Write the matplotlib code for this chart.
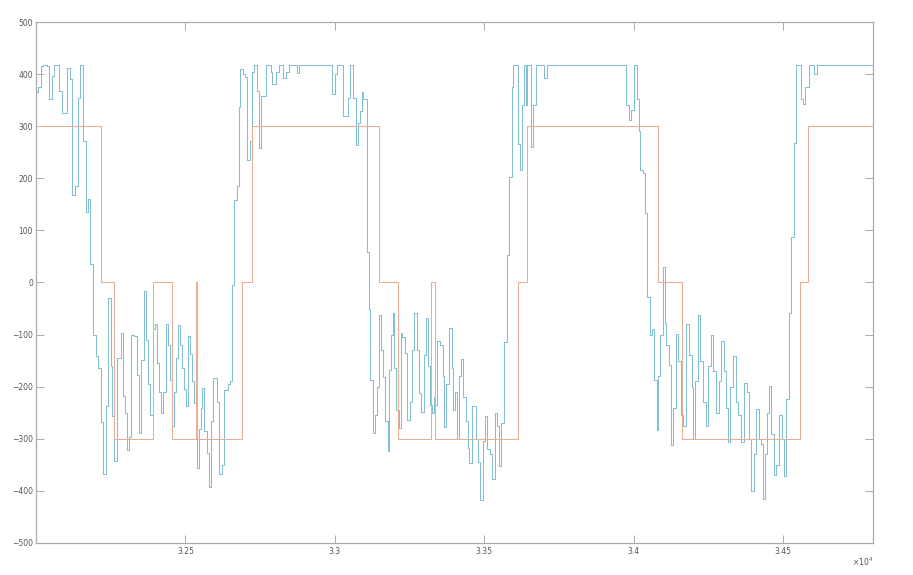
import matplotlib.pyplot as plt

sig_t = [32000, 32008, 32017, 32023, 32037, 32045, 32054, 32060, 32077, 32087,
         32104, 32114, 32122, 32130, 32139, 32147, 32157, 32166, 32174, 32181,
         32192, 32200, 32206, 32217, 32225, 32234, 32242, 32250, 32255, 32262,
         32270, 32284, 32290, 32297, 32303, 32310, 32319, 32328, 32337, 32344,
         32353, 32361, 32368, 32376, 32381, 32392, 32399, 32406, 32411, 32418,
         32426, 32434, 32441, 32448, 32454, 32463, 32468, 32476, 32482, 32489,
         32496, 32501, 32507, 32515, 32522, 32530, 32537, 32545, 32552, 32556,
         32563, 32571, 32579, 32587, 32593, 32606, 32613, 32621, 32629, 32643,
         32649, 32657, 32663, 32671, 32679, 32684, 32691, 32699, 32707, 32716,
         32723, 32730, 32738, 32746, 32752, 32768, 32785, 32791, 32803, 32812,
         32827, 32836, 32845, 32872, 32881, 32991, 33000, 33008, 33026, 33044,
         33050, 33059, 33072, 33078, 33084, 33090, 33095, 33106, 33115, 33119,
         33126, 33134, 33141, 33148, 33154, 33162, 33169, 33176, 33182, 33187,
         33193, 33198, 33206, 33213, 33221, 33226, 33234, 33242, 33251, 33259,
         33265, 33273, 33281, 33287, 33298, 33304, 33312, 33318, 33326, 33331,
         33334, 33342, 33351, 33360, 33366, 33373, 33381, 33390, 33396, 33401,
         33407, 33415, 33421, 33429, 33437, 33444, 33449, 33457, 33471, 33479,
         33487, 33494, 33502, 33509, 33518, 33527, 33535, 33543, 33549, 33557,
         33565, 33574, 33583, 33591, 33596, 33611, 33619, 33626, 33632, 33639,
         33642, 33655, 33663, 33672, 33700, 33708, 33975, 33983, 33992, 34001,
         34011, 34018, 34022, 34029, 34037, 34045, 34055, 34062, 34068, 34076,
         34082, 34089, 34098, 34103, 34109, 34117, 34123, 34131, 34140, 34148,
         34157, 34165, 34174, 34185, 34193, 34198, 34206, 34215, 34220, 34232,
         34241, 34248, 34257, 34265, 34276, 34285, 34293, 34301, 34307, 34315,
         34323, 34332, 34341, 34349, 34360, 34368, 34377, 34384, 34393, 34401,
         34410, 34418, 34424, 34432, 34440, 34447, 34452, 34460, 34468, 34477,
         34485, 34494, 34502, 34510, 34519, 34527, 34535, 34541, 34558, 34566,
         34574, 34586, 34603, 34613, 34800]
sig_v = [366, 376, 415, 418, 415, 352, 396, 418, 367, 326,
         411, 390, 168, 185, 355, 418, 272, 135, 160, 35,
         -100, -141, -165, -267, -368, -238, -29, -160, -257, -343,
         -144, -97, -218, -250, -321, -296, -100, -103, -177, -288,
         -149, -16, -110, -195, -254, -90, -80, -155, -210, -251,
         -210, -80, -120, -187, -276, -210, -145, -82, -120, -165,
         -205, -238, -103, -138, -190, -232, -357, -282, -240, -202,
         -286, -328, -393, -265, -183, -229, -367, -351, -207, -195,
         -190, -5, 158, 185, 336, 410, 400, 395, 236, 272,
         405, 418, 368, 258, 358, 418, 405, 381, 405, 418,
         392, 405, 418, 403, 418, 361, 400, 418, 320, 355,
         418, 355, 264, 307, 330, 365, 352, 59, -51, -188,
         -289, -254, -200, -62, -130, -181, -265, -323, -168, -100,
         -58, -165, -245, -280, -96, -104, -135, -264, -229, -130,
         -58, -130, -213, -248, -140, -69, -160, -235, -250, -219,
         -235, -112, -120, -180, -277, -195, -87, -165, -245, -210,
         -300, -180, -147, -219, -265, -318, -346, -238, -300, -345,
         -417, -305, -257, -320, -330, -377, -250, -275, -353, -270,
         -115, 53, 203, 376, 418, 265, 215, 340, 418, 340,
         418, 261, 341, 418, 393, 418, 341, 312, 331, 418,
         353, 290, 215, 210, 133, -27, -101, -90, -187, -283,
         -180, -100, 30, -78, -120, -158, -312, -240, -99, -150,
         -254, -275, -80, -140, -200, -301, -190, -62, -150, -230,
         -275, -160, -101, -170, -251, -190, -112, -170, -240, -307,
         -200, -141, -230, -255, -307, -192, -210, -300, -401, -330,
         -243, -300, -310, -416, -330, -250, -198, -290, -369, -350,
         -254, -300, -371, -224, -58, 88, 268, 418, 353, 342,
         376, 418, 400, 418, 418]

# reference command
ref_t = [32000, 32217, 32262, 32392, 32456, 32535, 32540, 32688, 32723, 33148,
         33212, 33323, 33334, 33611, 33641, 34081, 34162, 34556, 34583, 34800]
ref_v = [300, 0, -300, 0, -300, 0, -300, 0, 300, 0,
         -300, 0, -300, 0, 300, 0, -300, 0, 300, 300]

xticks = [32500, 33000, 33500, 34000, 34500]
xtick_labels = ['3.25', '3.3', '3.35', '3.4', '3.45']
yticks = list(range(-500, 501, 100))

fig = plt.figure(figsize=(9.13, 5.75), dpi=100)
ax = fig.add_axes([0.0394, 0.0557, 0.9168, 0.906])

ax.step(sig_t, sig_v, where='post', color='#84bed2', linewidth=0.75)
ax.step(ref_t, ref_v, where='post', color='#eaae94', linewidth=0.75)

ax.set_xlim(32000, 34800)
ax.set_ylim(-500, 500)
ax.set_xticks(xticks)
ax.set_xticklabels(xtick_labels)
ax.set_yticks(yticks)

grey = '#ababab'
for s in ax.spines.values():
    s.set_color(grey)
    s.set_linewidth(0.9)
ax.tick_params(direction='in', length=5.5, width=0.7, color=grey,
               labelsize=5.5, labelcolor='#555555', top=True, right=True, pad=3)
ax.tick_params(axis='y', pad=2)

ax.text(1.0, -0.036, r'$\times10^4$', transform=ax.transAxes, ha='right',
        va='center', fontsize=5.5, color='#555555')

fig.savefig('out.png', dpi=100)
